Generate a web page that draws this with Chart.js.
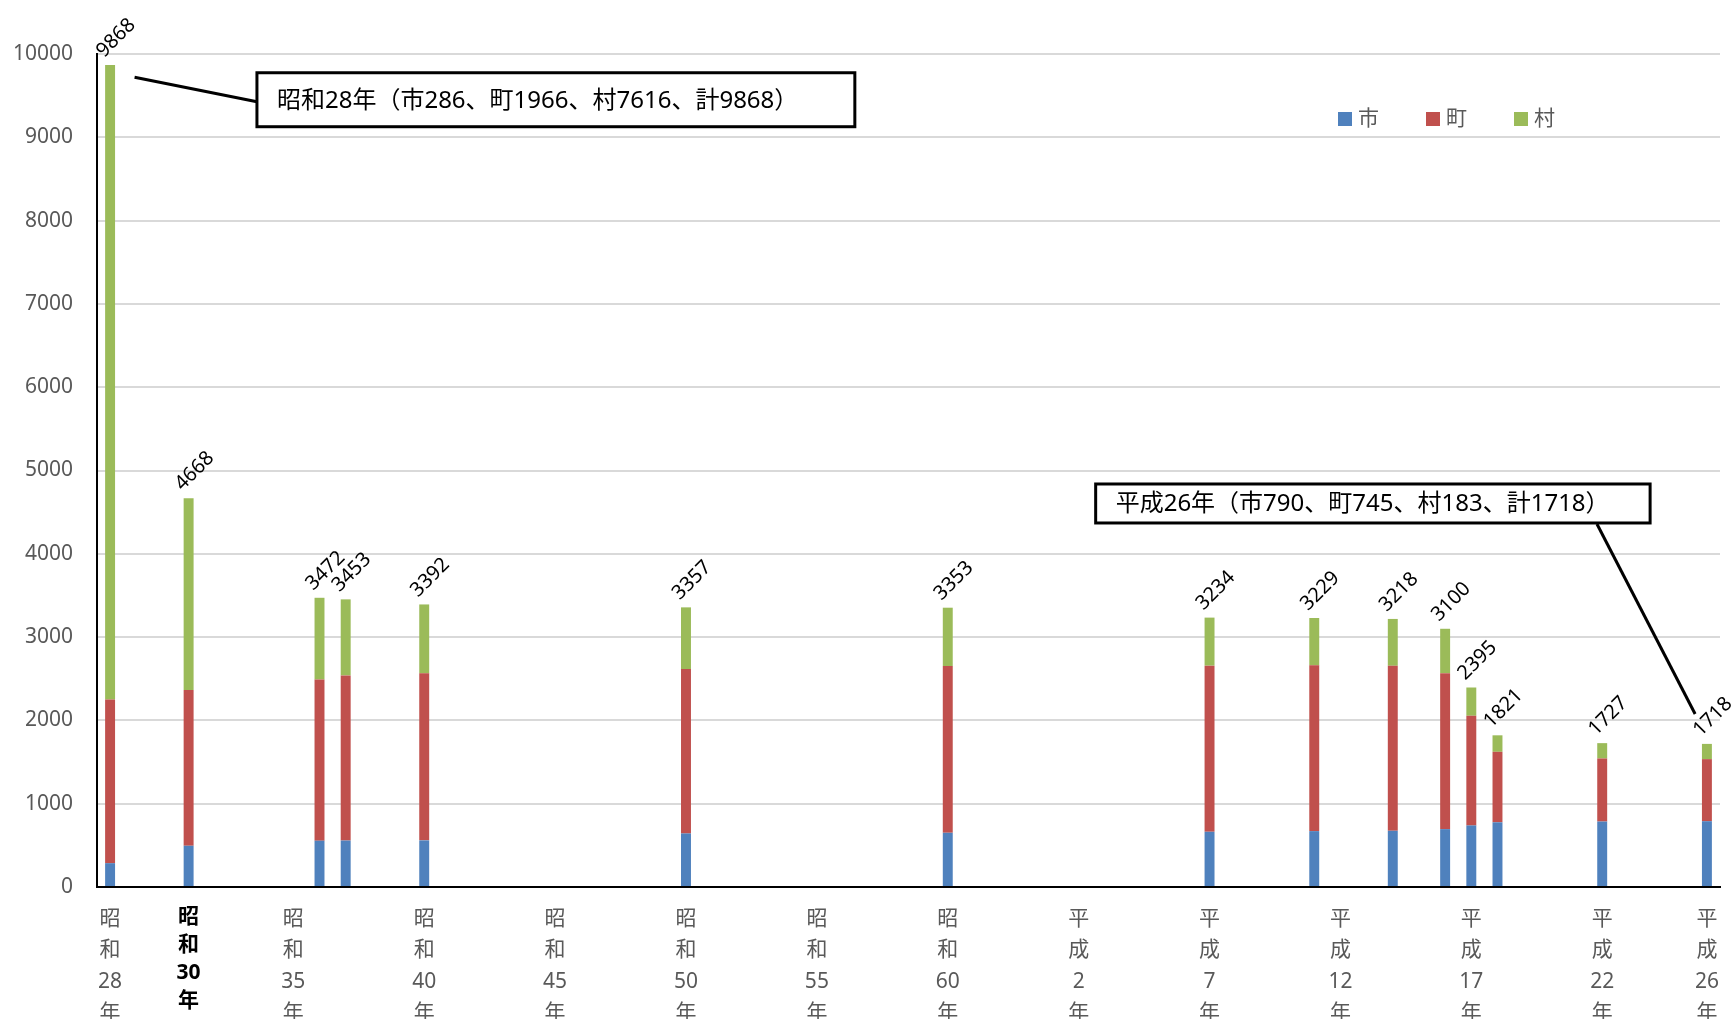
<!DOCTYPE html>
<html lang="ja">
<head>
<meta charset="utf-8">
<title>市町村数の推移</title>
<script src="https://cdn.jsdelivr.net/npm/chart.js@4.4.1/dist/chart.umd.min.js"></script>
<style>
  html, body { margin: 0; padding: 0; background: #fff; overflow: hidden; }
  #wrap { width: 1736px; height: 1019px; overflow: hidden; }
  canvas { display: block; }
</style>
</head>
<body>
<div id="wrap"><canvas id="c" width="1736" height="1045"></canvas></div>
<script>
// One slot per year on the horizontal axis (昭和28年 … 平成26年)
const slotCount = 62;

// Year captions shown under the axis and the slot each one sits on
const tickSlots = [0, 3, 7, 12, 17, 22, 27, 32, 37, 42, 47, 52, 57, 61];
const tickTexts = ['昭和28年', '昭和30年', '昭和35年', '昭和40年', '昭和45年', '昭和50年', '昭和55年',
                   '昭和60年', '平成2年', '平成7年', '平成12年', '平成17年', '平成22年', '平成26年'];
const emphasizedTick = '昭和30年';

// Survey points: slot of each bar and the counts of 市 / 町 / 村
const barSlots      = [0, 3, 8, 9, 12, 22, 32, 42, 46, 49, 51, 52, 53, 57, 61];
const cityCounts    = [286, 495, 556, 558, 560, 643, 651, 663, 671, 675, 695, 739, 777, 786, 790];
const townCounts    = [1966, 1870, 1935, 1982, 2005, 1974, 2001, 1994, 1990, 1981, 1872, 1317, 846, 757, 745];
const villageCounts = [7616, 2303, 981, 913, 827, 740, 701, 577, 568, 562, 533, 339, 198, 184, 183];

const seriesNames  = ['市', '町', '村'];
const seriesColors = ['#4f81bd', '#c0504d', '#9bbb59'];

const FONT = "'Noto Sans', 'Noto Sans CJK JP', sans-serif";

// ---- build the per-slot tables the library needs ----
const labels = new Array(slotCount).fill('');
tickSlots.forEach((s, i) => { labels[s] = tickTexts[i].match(/\d+|./g); });

function spread(values) {
  const out = new Array(slotCount).fill(null);
  barSlots.forEach((s, i) => { out[s] = values[i]; });
  return out;
}
const seriesValues = [cityCounts, townCounts, villageCounts];
const totals = barSlots.map((_, i) => cityCounts[i] + townCounts[i] + villageCounts[i]);

// Callout texts for the first and the latest survey
function calloutText(era, i) {
  return `${era}（市${cityCounts[i]}、町${townCounts[i]}、村${villageCounts[i]}、計${totals[i]}）`;
}
const lastBar = barSlots.length - 1;
const callouts = [
  { text: calloutText(tickTexts[0], 0),
    box: { x0: 5.61, x1: 28.45, yTop: 9775, yBottom: 9127 },
    leader: { from: [0.935, 9720], to: [5.61, 9427] } },
  { text: calloutText(tickTexts[tickTexts.length - 1], lastBar),
    box: { x0: 37.65, x1: 58.83, yTop: 4838, yBottom: 4370 },
    leader: { from: [56.8, 4358], to: [60.55, 2077] } }
];

// ---- plugins ----
// Rotated total above each stacked bar
const totalLabels = {
  id: 'totalLabels',
  afterDatasetsDraw(chart) {
    const meta = chart.getDatasetMeta(2);
    const ctx = chart.ctx;
    ctx.save();
    ctx.font = `20px ${FONT}`;
    ctx.fillStyle = '#000';
    ctx.textAlign = 'center';
    ctx.textBaseline = 'middle';
    barSlots.forEach((s, i) => {
      const el = meta.data[s];
      if (!el) return;
      ctx.save();
      ctx.translate(el.x + 6, el.y - 27);
      ctx.rotate(-Math.PI / 4);
      ctx.fillText(String(totals[i]), 0, 0);
      ctx.restore();
    });
    ctx.restore();
  }
};

// Boxed notes with a leader line
const calloutPlugin = {
  id: 'callouts',
  afterDraw(chart) {
    const xs = chart.scales.x, ys = chart.scales.y, ctx = chart.ctx;
    ctx.save();
    callouts.forEach(c => {
      const [fx, fy] = c.leader.from, [tx, ty] = c.leader.to;
      ctx.beginPath();
      ctx.moveTo(xs.getPixelForValue(fx), ys.getPixelForValue(fy));
      ctx.lineTo(xs.getPixelForValue(tx), ys.getPixelForValue(ty));
      ctx.strokeStyle = '#000';
      ctx.lineWidth = 3;
      ctx.stroke();

      const left = xs.getPixelForValue(c.box.x0), right = xs.getPixelForValue(c.box.x1);
      const top = ys.getPixelForValue(c.box.yTop), bottom = ys.getPixelForValue(c.box.yBottom);
      ctx.fillStyle = '#fff';
      ctx.fillRect(left, top, right - left, bottom - top);
      ctx.lineWidth = 3;
      ctx.strokeRect(left, top, right - left, bottom - top);

      ctx.fillStyle = '#000';
      ctx.font = `24px ${FONT}`;
      ctx.textAlign = 'left';
      ctx.textBaseline = 'middle';
      ctx.fillText(c.text, left + 20, (top + bottom) / 2 + 1);
    });
    ctx.restore();
  }
};

// Series key in the upper right of the plot
const legendPlugin = {
  id: 'cornerLegend',
  afterDraw(chart) {
    const ctx = chart.ctx;
    ctx.save();
    ctx.font = `21px ${FONT}`;
    ctx.textBaseline = 'middle';
    ctx.textAlign = 'left';
    chart.data.datasets.forEach((ds, i) => {
      const x = 1338 + i * 88, y = 112;
      ctx.fillStyle = ds.backgroundColor;
      ctx.fillRect(x, y, 14, 14);
      ctx.fillStyle = '#595959';
      ctx.fillText(ds.label, x + 20, y + 7);
    });
    ctx.restore();
  }
};

new Chart(document.getElementById('c'), {
  type: 'bar',
  data: {
    labels,
    datasets: seriesNames.map((name, k) => ({
      label: name,
      data: spread(seriesValues[k]),
      backgroundColor: seriesColors[k],
      borderWidth: 0,
      barPercentage: 0.38,
      categoryPercentage: 1
    }))
  },
  options: {
    responsive: false,
    animation: false,
    devicePixelRatio: 1,
    layout: { padding: { top: 54, right: 16, left: 0, bottom: 0 } },
    plugins: { legend: { display: false }, tooltip: { enabled: false } },
    scales: {
      x: {
        stacked: true,
        grid: { display: false, drawTicks: false },
        border: { display: true, color: '#000', width: 2 },
        ticks: {
          autoSkip: false,
          maxRotation: 0,
          minRotation: 0,
          padding: 16,
          color: c => (tickTexts[tickSlots.indexOf(c.index)] === emphasizedTick ? '#000' : '#595959'),
          font: c => (tickTexts[tickSlots.indexOf(c.index)] === emphasizedTick
            ? { family: FONT, size: 21, weight: 'bold', lineHeight: 28 / 21 }
            : { family: FONT, size: 21, lineHeight: 1.5 })
        },
        afterFit(scale) { scale.height = 1045 - 887; }
      },
      y: {
        stacked: true,
        min: 0,
        max: 10000,
        grid: { color: '#d9d9d9', lineWidth: 2, drawTicks: false },
        border: { display: true, color: '#000', width: 2 },
        ticks: {
          stepSize: 1000,
          padding: 24,
          color: '#595959',
          font: { family: FONT, size: 21 },
          callback: v => String(v)
        },
        afterFit(scale) { scale.width = 97; }
      }
    }
  },
  plugins: [totalLabels, calloutPlugin, legendPlugin]
});
</script>
</body>
</html>
